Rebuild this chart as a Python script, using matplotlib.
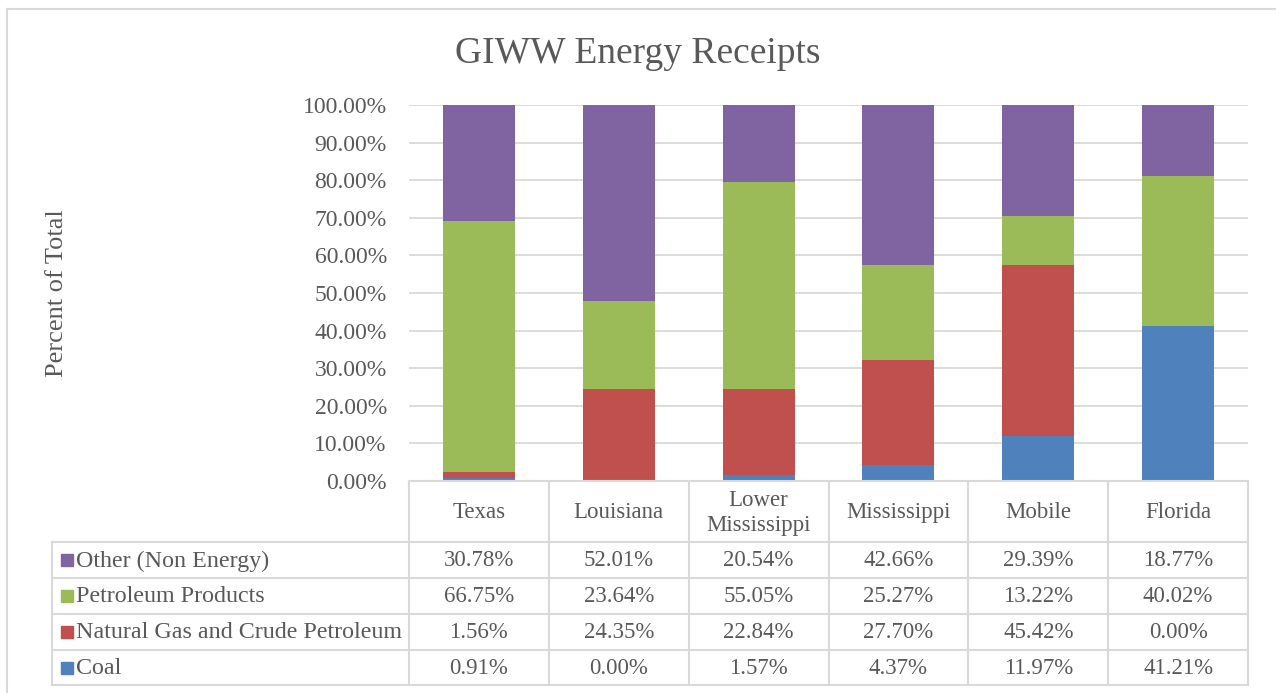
import matplotlib
matplotlib.use("Agg")
import matplotlib.pyplot as plt
from matplotlib.patches import Rectangle
from matplotlib.lines import Line2D

# ---- data ----
categories = ["Texas", "Louisiana", "Lower\nMississippi", "Mississippi", "Mobile", "Florida"]
coal = [0.91, 0.00, 1.57, 4.37, 11.97, 41.21]
natgas = [1.56, 24.35, 22.84, 27.70, 45.42, 0.00]
petroleum = [66.75, 23.64, 55.05, 25.27, 13.22, 40.02]
other = [30.78, 52.01, 20.54, 42.66, 29.39, 18.77]
series_names = ["Coal", "Natural Gas and Crude Petroleum", "Petroleum Products", "Other (Non Energy)"]
series_colors = ["#4F81BD", "#C0504D", "#9BBB59", "#8064A2"]
y_ticks = [0, 10, 20, 30, 40, 50, 60, 70, 80, 90, 100]

W, H = 1276, 693
fig = plt.figure(figsize=(W / 100, H / 100), dpi=100)
FONT = "Liberation Serif"
TXT = "#595959"
GRID = "#D9D9D9"

def fx(px):
    return px / W

def fy(py):
    return 1 - py / H

# outer chart border
fig.add_artist(Line2D([fx(7), fx(7)], [fy(9), 0], color=GRID, lw=1.5))
fig.add_artist(Line2D([fx(7), 1], [fy(9), fy(9)], color=GRID, lw=1.5))

# plot area
L, R, T, B = 409, 1248, 105, 481
ax = fig.add_axes([fx(L), fy(B), fx(R - L), (B - T) / H])
x = list(range(len(categories)))
series = [coal, natgas, petroleum, other]
bottom = [0.0] * len(categories)
for vals, col, name in zip(series, series_colors, series_names):
    ax.bar(x, vals, bottom=bottom, width=0.515, color=col, label=name, zorder=3)
    bottom = [b + v for b, v in zip(bottom, vals)]

ax.set_xlim(-0.5, len(categories) - 0.5)
ax.set_ylim(0, 100)
ax.set_yticks(y_ticks)
ax.set_yticklabels([f"{t:.2f}%" for t in y_ticks], fontfamily=FONT, fontsize=17, color=TXT)
ax.tick_params(axis="y", length=0, pad=16)
ax.set_xticks([])
ax.grid(axis="y", color=GRID, lw=1.3, zorder=0)
for s in ax.spines.values():
    s.set_visible(False)
ax.set_ylabel("Percent of Total", fontfamily=FONT, fontsize=19, color=TXT, labelpad=0)
ax.yaxis.label.set_va("center")
ax.yaxis.set_label_coords((57 - L) / (R - L), 0.5)

fig.text(0.5, fy(54), "GIWW Energy Receipts", ha="center", va="center",
         fontfamily=FONT, fontsize=27, color=TXT)

# ---- data table ----
rows_y = [481, 542, 578, 614, 650, 685]
tab_left = 52
lw_t = 1.5

def cat_px(i):
    # convert category position to pixel x using the axes scale
    disp = ax.transData.transform((i, 0))
    return disp[0]

fig.canvas.draw()
edges_px = [L] + [L + (R - L) * (k + 1) / len(categories) for k in range(len(categories))]

# horizontal lines
fig.add_artist(Line2D([fx(L), fx(R)], [fy(rows_y[0])] * 2, color=GRID, lw=lw_t))
for yy in rows_y[1:]:
    fig.add_artist(Line2D([fx(tab_left), fx(R)], [fy(yy)] * 2, color=GRID, lw=lw_t))
# vertical lines
fig.add_artist(Line2D([fx(tab_left)] * 2, [fy(rows_y[1]), fy(rows_y[-1])], color=GRID, lw=lw_t))
for ex in edges_px:
    fig.add_artist(Line2D([fx(ex)] * 2, [fy(rows_y[0]), fy(rows_y[-1])], color=GRID, lw=lw_t))

# header
for i, c in enumerate(categories):
    cx = cat_px(i)
    fig.text(cx / W, fy((rows_y[0] + rows_y[1]) / 2 + 1), c, ha="center", va="center",
             fontfamily=FONT, fontsize=16.5, color=TXT, linespacing=1.25)

# rows: reverse series order (Other on top)
row_order = [3, 2, 1, 0]
for r, si in enumerate(row_order):
    yc = (rows_y[r + 1] + rows_y[r + 2]) / 2
    fig.add_artist(Rectangle((fx(61), fy(yc + 6)), 12 / W, 12 / H,
                             transform=fig.transFigure, color=series_colors[si]))
    fig.text(fx(76), fy(yc + 1), series_names[si], ha="left", va="center",
             fontfamily=FONT, fontsize=17.3, color=TXT)
    for i, v in enumerate(series[si]):
        fig.text(cat_px(i) / W, fy(yc + 1), f"{v:.2f}%", ha="center", va="center",
                 fontfamily=FONT, fontsize=16.5, color=TXT)

fig.savefig("out.png", dpi=100)
